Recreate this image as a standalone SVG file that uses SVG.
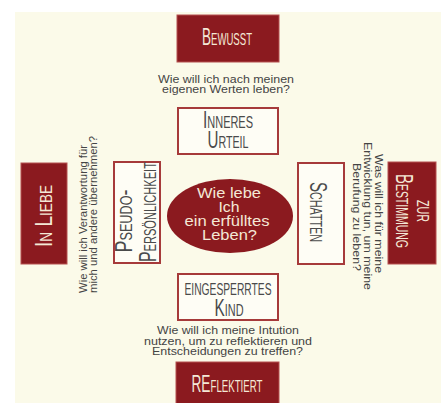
<svg xmlns="http://www.w3.org/2000/svg" width="447" height="403" viewBox="0 0 447 403">
<style>
.bg{fill:#FBFAE9}
.fill{fill:#8B1A1F;stroke:#B55050;stroke-width:1}
.out{fill:#FEFDF5;stroke:#A63A3A;stroke-width:2}
.hd{font-family:"Liberation Sans",Arial,sans-serif;font-variant:small-caps;font-size:24px;text-anchor:middle}
.lt{fill:#F4E8D6}
.dk{fill:#4A4A4A}
.q{font-family:"Liberation Sans",Arial,sans-serif;font-size:11px;fill:#444}
.c{text-anchor:middle}
.el{font-family:"Liberation Sans",Arial,sans-serif;font-size:14.5px;fill:#F4E8D6;text-anchor:middle}
</style>
<rect x="0" y="0" width="447" height="403" fill="#FFFFFF"/>
<rect class="bg" x="15" y="12" width="426" height="391"/>

<g id="connectors"></g>

<g id="bewusst">
<rect class="fill" x="177" y="15" width="102" height="47"/>
<text class="hd lt" x="227" y="45" textLength="50" lengthAdjust="spacingAndGlyphs">Bewusst</text>
</g>

<g id="q-top">
<text class="q c" x="226" y="82.5" textLength="136" lengthAdjust="spacingAndGlyphs">Wie will ich nach meinen</text>
<text class="q c" x="226" y="92.5" textLength="128" lengthAdjust="spacingAndGlyphs">eigenen Werten leben?</text>
</g>

<g id="inneres-urteil">
<rect class="out" x="178" y="108" width="100" height="46"/>
<text class="hd dk" x="228" y="128" textLength="50" lengthAdjust="spacingAndGlyphs">Inneres</text>
<text class="hd dk" x="228" y="148" textLength="41" lengthAdjust="spacingAndGlyphs">Urteil</text>
</g>

<g id="in-liebe">
<rect class="fill" x="21" y="163" width="46" height="101"/>
<text class="hd lt" transform="translate(52,216) rotate(-90)" x="0" y="0" textLength="62" lengthAdjust="spacingAndGlyphs">In Liebe</text>
</g>

<g id="q-left">
<g transform="translate(86.5,293) rotate(-90)">
<text class="q" x="0" y="0" textLength="148" lengthAdjust="spacingAndGlyphs">Wie will ich Verantwortung für</text>
<text class="q" x="0" y="10" textLength="157" lengthAdjust="spacingAndGlyphs">mich und andere übernehmen?</text>
</g>
</g>

<g id="pseudo">
<rect class="out" x="114" y="162" width="46" height="101"/>
<text class="hd dk" transform="translate(132,221) rotate(-90)" x="0" y="0" textLength="63" lengthAdjust="spacingAndGlyphs">Pseudo-</text>
<text class="hd dk" transform="translate(155.5,212) rotate(-90)" x="0" y="0" textLength="100" lengthAdjust="spacingAndGlyphs">Persönlichkeit</text>
</g>

<g id="center">
<ellipse cx="230" cy="216" rx="63" ry="37" fill="#8B1A1F"/>
<text class="el" x="229" y="198" textLength="64" lengthAdjust="spacingAndGlyphs">Wie lebe</text>
<text class="el" x="229" y="212" textLength="21" lengthAdjust="spacingAndGlyphs">Ich</text>
<text class="el" x="227" y="226" textLength="85" lengthAdjust="spacingAndGlyphs">ein erfülltes</text>
<text class="el" x="229.5" y="239.5" textLength="55" lengthAdjust="spacingAndGlyphs">Leben?</text>
</g>

<g id="schatten">
<rect class="out" x="298" y="163" width="46" height="101"/>
<text class="hd dk" transform="translate(310,212) rotate(90)" x="0" y="0" textLength="60" lengthAdjust="spacingAndGlyphs">Schatten</text>
</g>

<g id="q-right">
<g transform="translate(375,215.5) rotate(90)">
<text class="q c" x="-2" y="0" textLength="119" lengthAdjust="spacingAndGlyphs">Was will ich für meine</text>
<text class="q c" x="0.5" y="11" textLength="148" lengthAdjust="spacingAndGlyphs">Entwicklung tun, um meine</text>
<text class="q c" x="1.5" y="22" textLength="108" lengthAdjust="spacingAndGlyphs">Berufung zu leben?</text>
</g>
</g>

<g id="zur-bestimmung">
<rect class="fill" x="388" y="162" width="48" height="102"/>
<text class="hd lt" transform="translate(416.5,211) rotate(90)" x="0" y="0" textLength="22" lengthAdjust="spacingAndGlyphs">zur</text>
<text class="hd lt" transform="translate(396,211) rotate(90)" x="0" y="0" textLength="74" lengthAdjust="spacingAndGlyphs">Bestimmung</text>
</g>

<g id="eingesperrtes-kind">
<rect class="out" x="178" y="274" width="100" height="46"/>
<text class="hd dk" x="228" y="295" font-size="27" textLength="87" lengthAdjust="spacingAndGlyphs">eingesperrtes</text>
<text class="hd dk" x="229" y="316" textLength="29" lengthAdjust="spacingAndGlyphs">Kind</text>
</g>

<g id="q-bottom">
<text class="q c" x="228" y="334" textLength="142" lengthAdjust="spacingAndGlyphs">Wie will ich meine Intution</text>
<text class="q c" x="228" y="344.5" textLength="168" lengthAdjust="spacingAndGlyphs">nutzen, um zu reflektieren und</text>
<text class="q c" x="227.5" y="354.5" textLength="151" lengthAdjust="spacingAndGlyphs">Entscheidungen zu treffen?</text>
</g>

<g id="reflektiert">
<rect class="fill" x="176" y="362" width="103" height="48"/>
<text class="hd lt" x="227" y="392" textLength="71" lengthAdjust="spacingAndGlyphs">REflektiert</text>
</g>
</svg>
